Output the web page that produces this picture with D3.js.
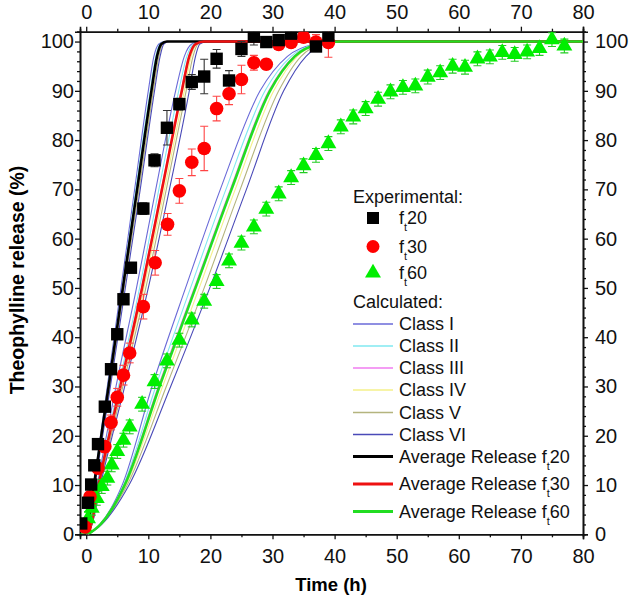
<!DOCTYPE html>
<html>
<head>
<meta charset="utf-8">
<script src="https://cdn.jsdelivr.net/npm/d3@7"></script>
<style>
  body { margin: 0; background: #fff; }
  text { font-family: "Liberation Sans", Arial, sans-serif; }
</style>
</head>
<body>
<svg id="chart" width="630" height="598"></svg>
<script>
// experimental points, time (h) / release (%) / error
const timeF20 = [-0.8, 0.3, 0.8, 1.3, 1.9, 3, 4, 5, 6, 7.2, 9.2, 11, 13, 15, 17, 19, 21, 23, 25, 27, 29, 31, 33, 37, 39];
const relF20  = [2.2, 6.4, 10.1, 14, 18.3, 25.9, 33.5, 40.6, 47.7, 54.1, 66.1, 75.9, 82.5, 87.3, 91.8, 92.9, 96.5, 92.1, 98.5, 101, 99.9, 100.3, 101.6, 99, 101.2];
const errF20  = [0.5, 0.5, 0.5, 0.6, 0.6, 0.8, 0.8, 1, 1, 1, 1.2, 1.3, 3.5, 1.2, 1.5, 3.5, 1.9, 2, 1.5, 1.7, 1, 1, 1, 1, 1];

const timeF30 = [-0.2, 0.6, 1.9, 3, 4, 5, 6, 7, 9.2, 11.1, 13.1, 15, 17, 19, 21, 23, 25, 27, 29, 31, 33, 35, 37, 39];
const relF30  = [1.5, 7.6, 13.4, 17.8, 22.7, 27.8, 32.3, 36.8, 46.2, 55.1, 62.9, 69.7, 75.5, 78.3, 86.4, 89.4, 92.3, 95.7, 95.4, 99.4, 99.8, 100.9, 99.9, 99.8];
const errF30  = [0.8, 1, 1, 1.2, 1.5, 1.8, 2, 2, 2.5, 2.5, 2.2, 2.5, 2.7, 4.5, 2.5, 2.2, 2.9, 1.5, 1, 1, 1, 1, 1.5, 3];

const timeF60 = [-0.3, 0.3, 0.9, 1.7, 2.5, 3.4, 4.1, 5, 6, 7, 9, 11, 13, 15, 17, 19, 21, 23, 25, 27, 29, 31, 33, 35, 37,
                 39, 41, 43, 45, 47, 49, 51, 53, 55, 57, 59, 61, 63, 65, 67, 69, 71, 73, 75, 77];
const relF60  = [1.5, 3.2, 5.3, 7.3, 9.7, 11.4, 14.1, 16.8, 19.1, 21.8, 26.4, 31, 35.2, 39.4, 43.5, 47.3, 51.3, 55.5, 59.1, 62.4, 66, 69.1, 72.4, 74.8, 76.9,
                 79.3, 82.7, 84.7, 86.4, 88.3, 89.8, 90.7, 91, 92.8, 93.7, 95, 94.8, 96.5, 96.9, 97.8, 97.4, 97.9, 98.6, 100.4, 99.1];
const errF60  = 1.4;

// calculated curves: time (h) at which each curve reaches these release levels
const levels = [0, 2, 10, 30, 50, 70, 90, 97, 99.5, 100];

const classNames  = ["Class I", "Class II", "Class III", "Class IV", "Class V", "Class VI"];
const classColors = ["#6a6ad8", "#80e8f0", "#f07cf0", "#f5f08a", "#b4b47e", "#4a4ab8"];

const calcF20 = [
  [0.05, 0.3, 1.2, 3.4, 5.6, 7.8, 10.0, 10.9, 11.7, 12.6],
  [0.05, 0.3, 1.2, 3.5, 5.8, 8.0, 10.3, 11.2, 11.9, 12.8],
  [0.05, 0.3, 1.25, 3.6, 5.9, 8.2, 10.5, 11.4, 12.1, 13],
  [0.05, 0.32, 1.3, 3.7, 6.0, 8.3, 10.7, 11.5, 12.2, 13.1],
  [0.06, 0.34, 1.32, 3.8, 6.1, 8.5, 10.8, 11.7, 12.3, 13.2],
  [0.07, 0.36, 1.4, 3.9, 6.3, 8.7, 11.0, 11.9, 12.5, 13.4]
];
const calcF30 = [
  [0.2, 0.7, 1.8, 4.8, 8.1, 11.2, 14.4, 15.8, 17.0, 18.6],
  [0.2, 0.75, 1.9, 5.2, 8.6, 11.7, 14.9, 16.2, 17.3, 18.8],
  [0.2, 0.8, 2.0, 5.4, 8.9, 12.1, 15.3, 16.5, 17.5, 19],
  [0.2, 0.85, 2.1, 5.7, 9.3, 12.6, 15.8, 16.9, 17.8, 19.2],
  [0.25, 0.9, 2.2, 5.9, 9.6, 12.9, 16.1, 17.2, 18.0, 19.4],
  [0.3, 0.95, 2.3, 6.2, 10.0, 13.4, 16.6, 17.6, 18.3, 19.6]
];
const calcF60 = [
  [0.3, 2.2, 5.8, 10.6, 16.0, 21.6, 28.0, 32.4, 36.9, 40.7],
  [0.3, 2.25, 6.0, 11.2, 16.8, 22.5, 28.8, 33.0, 37.2, 40.9],
  [0.3, 2.3, 6.1, 11.6, 17.4, 23.2, 29.4, 33.4, 37.4, 41],
  [0.3, 2.35, 6.4, 12.3, 18.2, 24.0, 30.2, 34.0, 37.7, 41],
  [0.35, 2.4, 6.6, 12.9, 19.0, 24.8, 31.0, 34.6, 38.0, 41.2],
  [0.4, 2.5, 6.9, 13.6, 19.9, 25.8, 31.8, 35.4, 38.5, 41.5]
];
const avgF20 = [0.05, 0.3, 1.25, 3.6, 5.9, 8.2, 10.5, 11.4, 12.1, 13];
const avgF30 = [0.2, 0.8, 2.0, 5.5, 9.0, 12.2, 15.4, 16.6, 17.6, 19];
const avgF60 = [0.3, 2.3, 6.2, 11.8, 17.6, 23.4, 29.6, 33.6, 37.5, 41];

const xTicks = [0, 10, 20, 30, 40, 50, 60, 70, 80];
const yTicks = [0, 10, 20, 30, 40, 50, 60, 70, 80, 90, 100];

const svg = d3.select('#chart');
const plotLeft = 80, plotRight = 583, plotTop = 31.7, plotBottom = 534.3;

const x = d3.scaleLinear().domain([-1, 80]).range([plotLeft, plotRight]);
const y = d3.scaleLinear().domain([0, 102]).range([plotBottom, plotTop]);

svg.append("defs").append("clipPath").attr("id", "plot")
  .append("rect").attr("x", plotLeft).attr("y", plotTop)
  .attr("width", plotRight - plotLeft).attr("height", plotBottom - plotTop);

// axes
const xMinor = d3.range(5, 80, 10);
const yMinor = d3.range(0, 103, 2).filter(v => v % 10 !== 0);

function drawAxis(axisFn, scale, ticks, minor, transform, size, pad) {
  const g = svg.append("g").attr("transform", transform);
  g.call(axisFn(scale).tickValues(minor).tickSize(3).tickFormat(""));
  const gm = svg.append("g").attr("transform", transform);
  gm.call(axisFn(scale).tickValues(ticks).tickSize(size).tickPadding(pad).tickFormat(d3.format("d")));
  [g, gm].forEach(a => {
    a.select(".domain").attr("stroke", "#111").attr("stroke-width", 1.6);
    a.selectAll(".tick line").attr("stroke", "#111").attr("stroke-width", 1.3);
    a.selectAll("text").attr("font-size", 20).attr("fill", "#111")
      .style("font-family", '"Liberation Sans", Arial, sans-serif');
  });
}
drawAxis(d3.axisBottom, x, xTicks, xMinor, `translate(0,${plotBottom})`, 5, 10);
drawAxis(d3.axisTop, x, xTicks, xMinor, `translate(0,${plotTop})`, 5, 8);
drawAxis(d3.axisLeft, y, yTicks, yMinor, `translate(${plotLeft},0)`, 5, 1);
drawAxis(d3.axisRight, y, yTicks, yMinor, `translate(${plotRight},0)`, 5, 7);

svg.append("text")
  .attr("x", 331).attr("y", 591)
  .attr("text-anchor", "middle")
  .attr("font-size", 18.5).attr("font-weight", "bold")
  .text("Time (h)");

svg.append("text")
  .attr("transform", "translate(24,280) rotate(-90)")
  .attr("text-anchor", "middle")
  .attr("font-size", 19.5).attr("font-weight", "bold")
  .text("Theophylline release (%)");

// calculated curves
const line = d3.line()
  .curve(d3.curveMonotoneX)
  .x(d => x(d[0]))
  .y(d => y(d[1]));

function curvePoints(times) {
  const pts = times.map((t, i) => [t, levels[i]]);
  pts.push([80, 100]);
  return pts;
}

const gLines = svg.append("g").attr("clip-path", "url(#plot)");

[calcF20, calcF30, calcF60].forEach(group => {
  group.forEach((times, i) => {
    gLines.append("path")
      .datum(curvePoints(times))
      .attr("d", line)
      .attr("fill", "none")
      .attr("stroke", classColors[i])
      .attr("stroke-width", 1.1);
  });
});

const avgColors = ["#000000", "#ee1111", "#22dd22"];
[avgF20, avgF30, avgF60].forEach((times, i) => {
  gLines.append("path")
    .datum(curvePoints(times))
    .attr("d", line)
    .attr("fill", "none")
    .attr("stroke", avgColors[i])
    .attr("stroke-width", 2.6);
});

// experimental points with error bars
const gPts = svg.append("g").attr("clip-path", "url(#plot)");

function errorBars(times, rel, err, color) {
  const data = times.map((t, i) => ({t, v: rel[i], e: Array.isArray(err) ? err[i] : err}));
  const g = gPts.append("g").attr("stroke", color).attr("stroke-width", 1.1);
  data.forEach(d => {
    const cx = x(d.t);
    g.append("line").attr("x1", cx).attr("x2", cx).attr("y1", y(d.v - d.e)).attr("y2", y(d.v + d.e));
    g.append("line").attr("x1", cx - 4).attr("x2", cx + 4).attr("y1", y(d.v - d.e)).attr("y2", y(d.v - d.e));
    g.append("line").attr("x1", cx - 4).attr("x2", cx + 4).attr("y1", y(d.v + d.e)).attr("y2", y(d.v + d.e));
  });
  return data;
}

const d20 = errorBars(timeF20, relF20, errF20, "#333");
const d30 = errorBars(timeF30, relF30, errF30, "#ff4444");
const d60 = errorBars(timeF60, relF60, errF60, "#22cc22");

const sym = d3.symbol();
gPts.selectAll(".tri").data(d60).enter().append("path")
  .attr("d", sym.type(d3.symbolTriangle).size(110)())
  .attr("transform", d => `translate(${x(d.t)},${y(d.v)})`)
  .attr("fill", "#00ee00");
gPts.selectAll(".circ").data(d30).enter().append("circle")
  .attr("cx", d => x(d.t)).attr("cy", d => y(d.v)).attr("r", 6.8)
  .attr("fill", "#ff0000");
gPts.selectAll(".sq").data(d20).enter().append("rect")
  .attr("x", d => x(d.t) - 6.2).attr("y", d => y(d.v) - 6.2)
  .attr("width", 12.4).attr("height", 12.4)
  .attr("fill", "#000");

// legend
const lg = svg.append("g").attr("font-size", 18).attr("fill", "#111");
const lx = 353, tx = 399;

function subLabel(g, xx, yy, prefix, num) {
  const t = g.append("text").attr("x", xx).attr("y", yy).attr("dy", "0.35em");
  t.append("tspan").text(prefix + "f");
  t.append("tspan").attr("font-size", 11).attr("dy", 7).text("t");
  t.append("tspan").attr("dy", -7).text(num);
}

lg.append("text").attr("x", lx).attr("y", 197).attr("dy", "0.35em").text("Experimental:");
const expRows = [218, 246.5, 273];
lg.append("rect").attr("x", 373 - 6).attr("y", expRows[0] - 6).attr("width", 12).attr("height", 12).attr("fill", "#000");
lg.append("circle").attr("cx", 373).attr("cy", expRows[1]).attr("r", 6.5).attr("fill", "#ff0000");
lg.append("path").attr("d", sym.type(d3.symbolTriangle).size(110)())
  .attr("transform", `translate(373,${expRows[2]})`).attr("fill", "#00ee00");
["20", "30", "60"].forEach((n, i) => subLabel(lg, tx, expRows[i], "", n));

lg.append("text").attr("x", lx).attr("y", 301.5).attr("dy", "0.35em").text("Calculated:");
const classRows = [324, 346, 368, 390, 412.5, 434.5];
classNames.forEach((name, i) => {
  lg.append("line").attr("x1", lx).attr("x2", 393).attr("y1", classRows[i]).attr("y2", classRows[i])
    .attr("stroke", classColors[i]).attr("stroke-width", 1.3);
  lg.append("text").attr("x", tx).attr("y", classRows[i]).attr("dy", "0.35em").text(name);
});
const avgRows = [456.5, 484, 511.5];
["20", "30", "60"].forEach((n, i) => {
  lg.append("line").attr("x1", lx).attr("x2", 393).attr("y1", avgRows[i]).attr("y2", avgRows[i])
    .attr("stroke", avgColors[i]).attr("stroke-width", 2.8);
  subLabel(lg, tx, avgRows[i], "Average Release ", n);
});
</script>
</body>
</html>
